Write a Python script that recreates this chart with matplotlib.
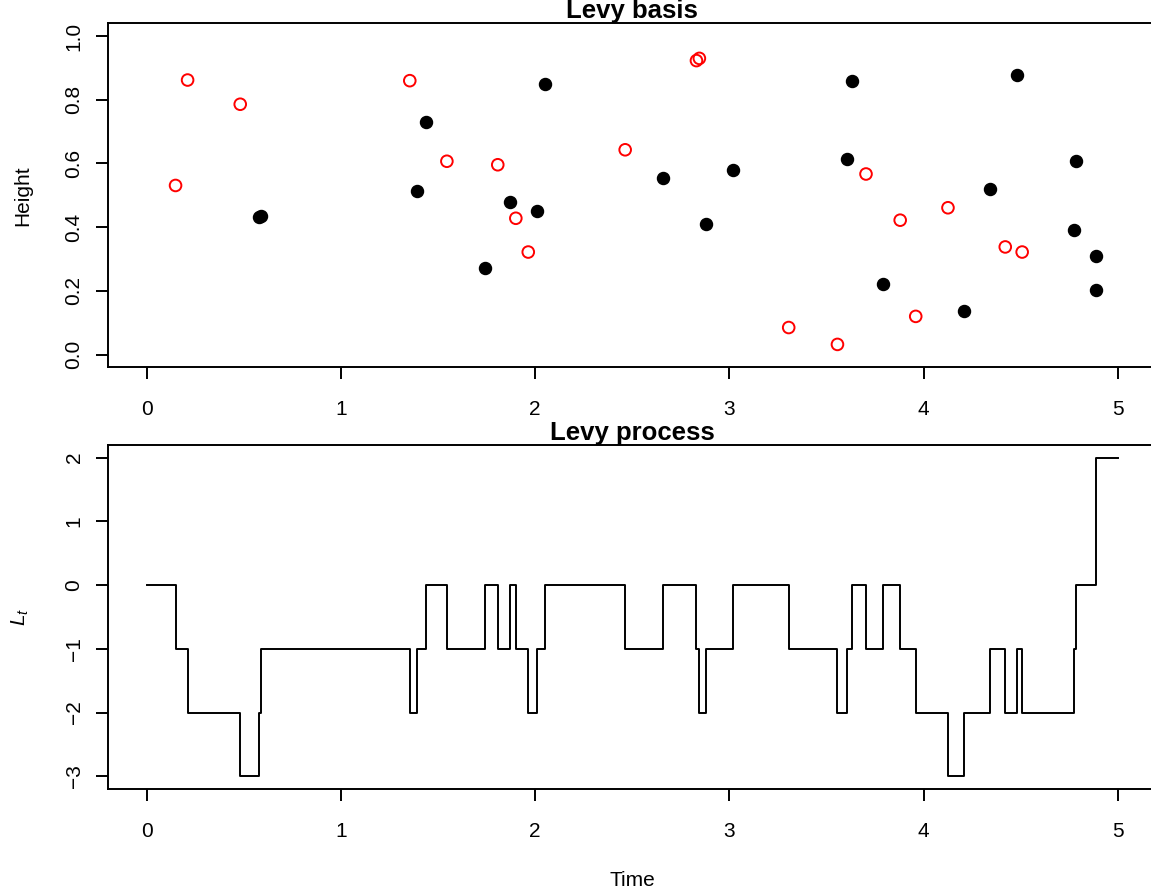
import numpy as np
import matplotlib
matplotlib.use("Agg")
import matplotlib.pyplot as plt

plt.rcParams['font.family'] = ['Liberation Sans', 'DejaVu Sans']
plt.rcParams['mathtext.fontset'] = 'custom'
plt.rcParams['mathtext.it'] = 'Liberation Sans:italic'
plt.rcParams['mathtext.rm'] = 'Liberation Sans'

# positive jumps (black filled) and negative jumps (red open) of the Levy basis
pos_t = [0.579, 0.590, 1.393, 1.435, 1.739, 1.869, 2.009, 2.052, 2.660, 2.880,
         3.019, 3.605, 3.632, 3.792, 4.205, 4.342, 4.478, 4.773, 4.782, 4.886, 4.889]
pos_h = [0.432, 0.434, 0.515, 0.729, 0.273, 0.478, 0.452, 0.851, 0.554, 0.410,
         0.580, 0.615, 0.860, 0.223, 0.136, 0.519, 0.878, 0.392, 0.607, 0.310, 0.204]
neg_t = [0.148, 0.210, 0.481, 1.354, 1.545, 1.807, 1.900, 1.964, 2.463, 2.830,
         2.845, 3.305, 3.556, 3.703, 3.879, 3.959, 4.125, 4.420, 4.507]
neg_h = [0.531, 0.862, 0.786, 0.860, 0.607, 0.596, 0.428, 0.322, 0.643, 0.923,
         0.930, 0.085, 0.032, 0.567, 0.422, 0.120, 0.461, 0.338, 0.322]
t_end = 5.0

# Levy process = cumulative count of jumps
jt = np.array(pos_t + neg_t)
js = np.array([1] * len(pos_t) + [-1] * len(neg_t))
order = np.argsort(jt)
times = np.concatenate([[0.0], jt[order], [t_end]])
vals = np.concatenate([[0], np.cumsum(js[order])])
vals = np.append(vals, vals[-1])

fig = plt.figure(figsize=(11.51, 8.94), dpi=100)
ax1 = fig.add_axes([0.0938, 0.5891, 0.9112, 0.3848])
ax2 = fig.add_axes([0.0938, 0.1174, 0.9112, 0.3851])

ax1.scatter(pos_t, pos_h, s=75, color='black', zorder=3)
ax1.scatter(neg_t, neg_h, s=70, facecolors='none', edgecolors='red', linewidths=1.4, zorder=3)
ax1.set_xlim(-0.2, 5.2)
ax1.set_ylim(-0.04, 1.04)
ax1.set_xticks(range(6))
ax1.set_yticks([0, 0.2, 0.4, 0.6, 0.8, 1.0])
ax1.set_yticklabels(['0.0', '0.2', '0.4', '0.6', '0.8', '1.0'])
ax1.set_title('Levy basis', fontsize=18.5, fontweight='bold', pad=2)
ax1.set_ylabel('Height', fontsize=15, labelpad=23)

ax2.step(times, vals, where='post', color='black', linewidth=1.4)
ax2.set_xlim(-0.2, 5.2)
ax2.set_ylim(-3.2, 2.2)
ax2.set_xticks(range(6))
ax2.set_yticks(range(-3, 3))
ax2.set_title('Levy process', fontsize=18.5, fontweight='bold', pad=2)
ax2.set_ylabel('$L_t$', fontsize=15, labelpad=24)
ax2.set_xlabel('Time', fontsize=15, labelpad=22)

for ax in (ax1, ax2):
    for sp in ax.spines.values():
        sp.set_linewidth(1.4)
    ax.tick_params(length=8.6, width=1.4, labelsize=15, pad=9)
    ax.tick_params(axis='x', pad=15)
    ax.tick_params(axis='y', labelrotation=90)
    for lab in ax.get_yticklabels():
        lab.set_va('center')

fig.savefig('out.png', dpi=100)
